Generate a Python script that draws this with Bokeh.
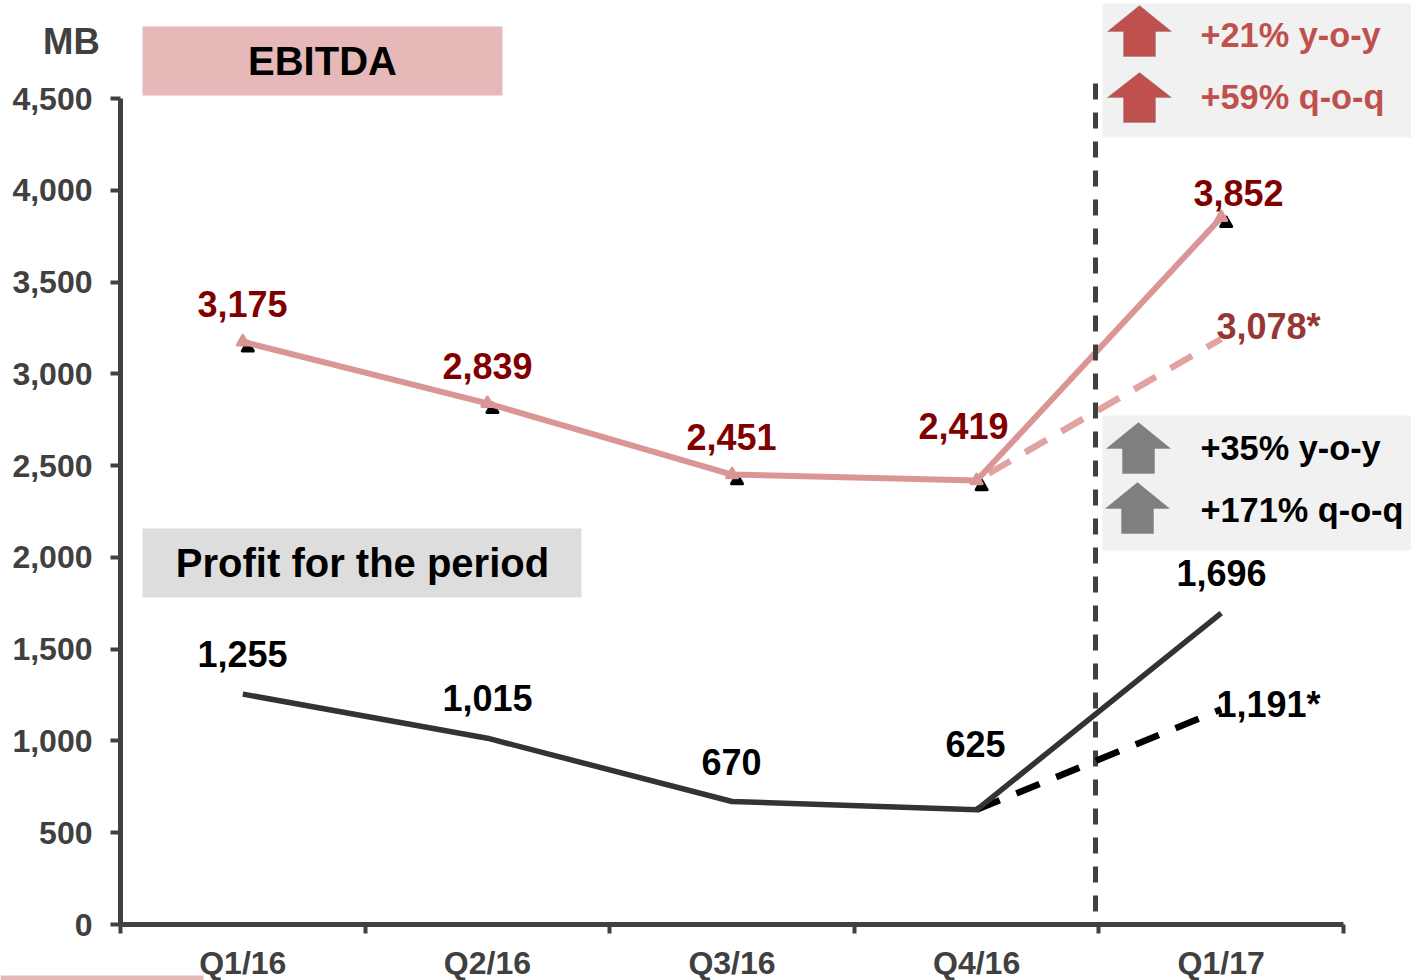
from bokeh.plotting import figure
from bokeh.models import Range1d, FixedTicker, BoxAnnotation, PolyAnnotation, Label, ColumnDataSource
from bokeh.transform import dodge
from bokeh.embed import file_html
from bokeh.resources import INLINE

quarters = ["Q1/16", "Q2/16", "Q3/16", "Q4/16", "Q1/17"]
ebitda = [3175, 2839, 2451, 2419, 3852]
profit = [1255, 1015, 670, 625, 1696]
ebitda_dash_q = ["Q4/16", "Q1/17"]
ebitda_dash = [2419, 3190]
profit_dash = [625, 1172]
ebitda_dash_label = "3,078*"
profit_dash_label = "1,191*"
y_ticks = [0, 500, 1000, 1500, 2000, 2500, 3000, 3500, 4000, 4500]

DARK = "#404040"
PINK = "#D99694"
PINK_DASH = "#E0A3A1"
FONT = "Liberation Sans"

# page-pixel geometry of the plot
W, H = 1411, 980
X0, XEND, Y0, Y4500 = 120.0, 1343.0, 924.0, 98.0
XS = (XEND - X0) / 5.0
YS = (Y0 - Y4500) / 4500.0


def px(x):
    return (x - X0) / XS


def py(y):
    return (Y0 - y) / YS


xpos = {q: i + 0.5 for i, q in enumerate(quarters)}
xs = [xpos[q] for q in quarters]

p = figure(
    width=W, height=H, output_backend="svg", toolbar_location=None,
    x_range=Range1d(px(0), px(W)), y_range=Range1d(py(H), py(0)),
    min_border=0, outline_line_color=None,
    styles={"position": "absolute", "left": "0px", "top": "0px"},
)
p.grid.visible = False

xa, ya = p.xaxis[0], p.yaxis[0]
xa.fixed_location = 0
ya.fixed_location = 0
xa.ticker = FixedTicker(ticks=xs, minor_ticks=[0, 1, 2, 3, 4, 5])
xa.major_label_overrides = {x: q for x, q in zip(xs, quarters)}
xa.bounds = (0, 5)
xa.major_tick_line_color = None
xa.major_tick_out = 0
xa.major_tick_in = 0
xa.minor_tick_out = 9
xa.minor_tick_in = 0
xa.minor_tick_line_width = 4
xa.minor_tick_line_color = DARK
xa.major_label_standoff = 11
ya.ticker = FixedTicker(ticks=y_ticks)
ya.major_label_overrides = {v: f"{v:,}" for v in y_ticks}
ya.bounds = (0, 4500)
ya.minor_tick_line_color = None
ya.major_tick_out = 10
ya.major_tick_in = 0
ya.major_tick_line_width = 4
ya.major_tick_line_color = DARK
ya.major_label_standoff = 18
for a in (xa, ya):
    a.axis_line_width = 5
    a.axis_line_color = DARK
    a.major_label_text_color = DARK
    a.major_label_text_font = FONT
    a.major_label_text_font_style = "bold"
    a.major_label_text_font_size = "32px"


def box(l, t, r, b, color):
    p.add_layout(BoxAnnotation(left=px(l), right=px(r), top=py(t), bottom=py(b),
                               fill_color=color, fill_alpha=1, line_color=None,
                               level="underlay"))


def text(x, y, s, size, color, align="center"):
    p.add_layout(Label(x=px(x), y=py(y - 1.5), text=s, text_font=FONT, text_font_style="bold",
                       text_font_size=f"{size}px", text_color=color, text_align=align,
                       text_baseline="middle"))


def arrow(cx, tip, wing, bottom, half, stem, color):
    pts = [(cx, tip), (cx + half, wing), (cx + stem, wing), (cx + stem, bottom),
           (cx - stem, bottom), (cx - stem, wing), (cx - half, wing)]
    p.add_layout(PolyAnnotation(xs=[px(a) for a, _ in pts], ys=[py(b) for _, b in pts],
                                fill_color=color, fill_alpha=1,
                                line_color="#6a6a6a", line_width=1))


box(142, 26, 502, 95, "#E6B9B8")
box(142, 528, 581, 597, "#DDDDDD")
box(1102, 3, 1411, 137, "#F1F1F1")
box(1102, 415, 1411, 550, "#F1F1F1")
box(0, 975, 203, 980, "#E6B9B8")

# shadow-like markers beneath the pink line
src = ColumnDataSource(dict(x=xs, e=ebitda))
p.scatter(x=dodge("x", 5 / XS), y=dodge("e", -6 / YS), source=src, marker="triangle", size=11,
          fill_color="black", line_color="black", line_width=3, line_join="round")

p.line(x=[xpos[q] for q in ebitda_dash_q], y=ebitda_dash, line_color=PINK_DASH, line_width=6.5,
       line_dash="25 17", line_dash_offset=28)
p.line(x=xs, y=ebitda, line_color=PINK, line_width=6, line_join="round")
p.scatter(x="x", y="e", source=src, marker="triangle", size=11, fill_color=PINK,
          line_color=PINK, line_width=3, line_join="round")

# vertical separator
p.line(x=[px(1095), px(1095)], y=[py(83), 0], line_color=DARK, line_width=5, line_dash="16 13")

p.line(x=[xpos[q] for q in ebitda_dash_q], y=profit_dash, line_color="black", line_width=6.5,
       line_dash="25 18")
p.line(x=xs, y=profit, line_color="#333333", line_width=5.5, line_join="round")

# value labels
e_pos = [(242, 305), (487, 367), (731, 438), (963, 427), (1238, 194)]
g_pos = [(242, 655), (487, 699), (731, 763), (975, 745), (1221, 574)]
for v, (x, y) in zip(ebitda, e_pos):
    text(x, y, f"{v:,}", 36, "#800000")
for v, (x, y) in zip(profit, g_pos):
    text(x, y, f"{v:,}", 36, "black")
text(1268, 327, ebitda_dash_label, 36, "#953735")
text(1268, 705, profit_dash_label, 36, "black")

text(71, 42, "MB", 36.5, DARK)
text(322, 62, "EBITDA", 40, "black")
text(362, 564, "Profit for the period", 40, "black")

arrow(1139, 5, 31, 56, 32, 16, "#C0504D")
arrow(1139, 72, 97, 122, 32, 16, "#C0504D")
arrow(1138, 422, 448, 473, 32, 16, "#7F7F7F")
arrow(1137, 482, 508, 533, 32, 16, "#7F7F7F")

text(1200, 36, "+21% y-o-y", 34.3, "#C0504D", "left")
text(1200, 98, "+59% q-o-q", 34.3, "#C0504D", "left")
text(1200, 449, "+35% y-o-y", 34.3, "black", "left")
text(1200, 511, "+171% q-o-q", 34.3, "black", "left")

open("out.html", "w").write(file_html(p, INLINE))
